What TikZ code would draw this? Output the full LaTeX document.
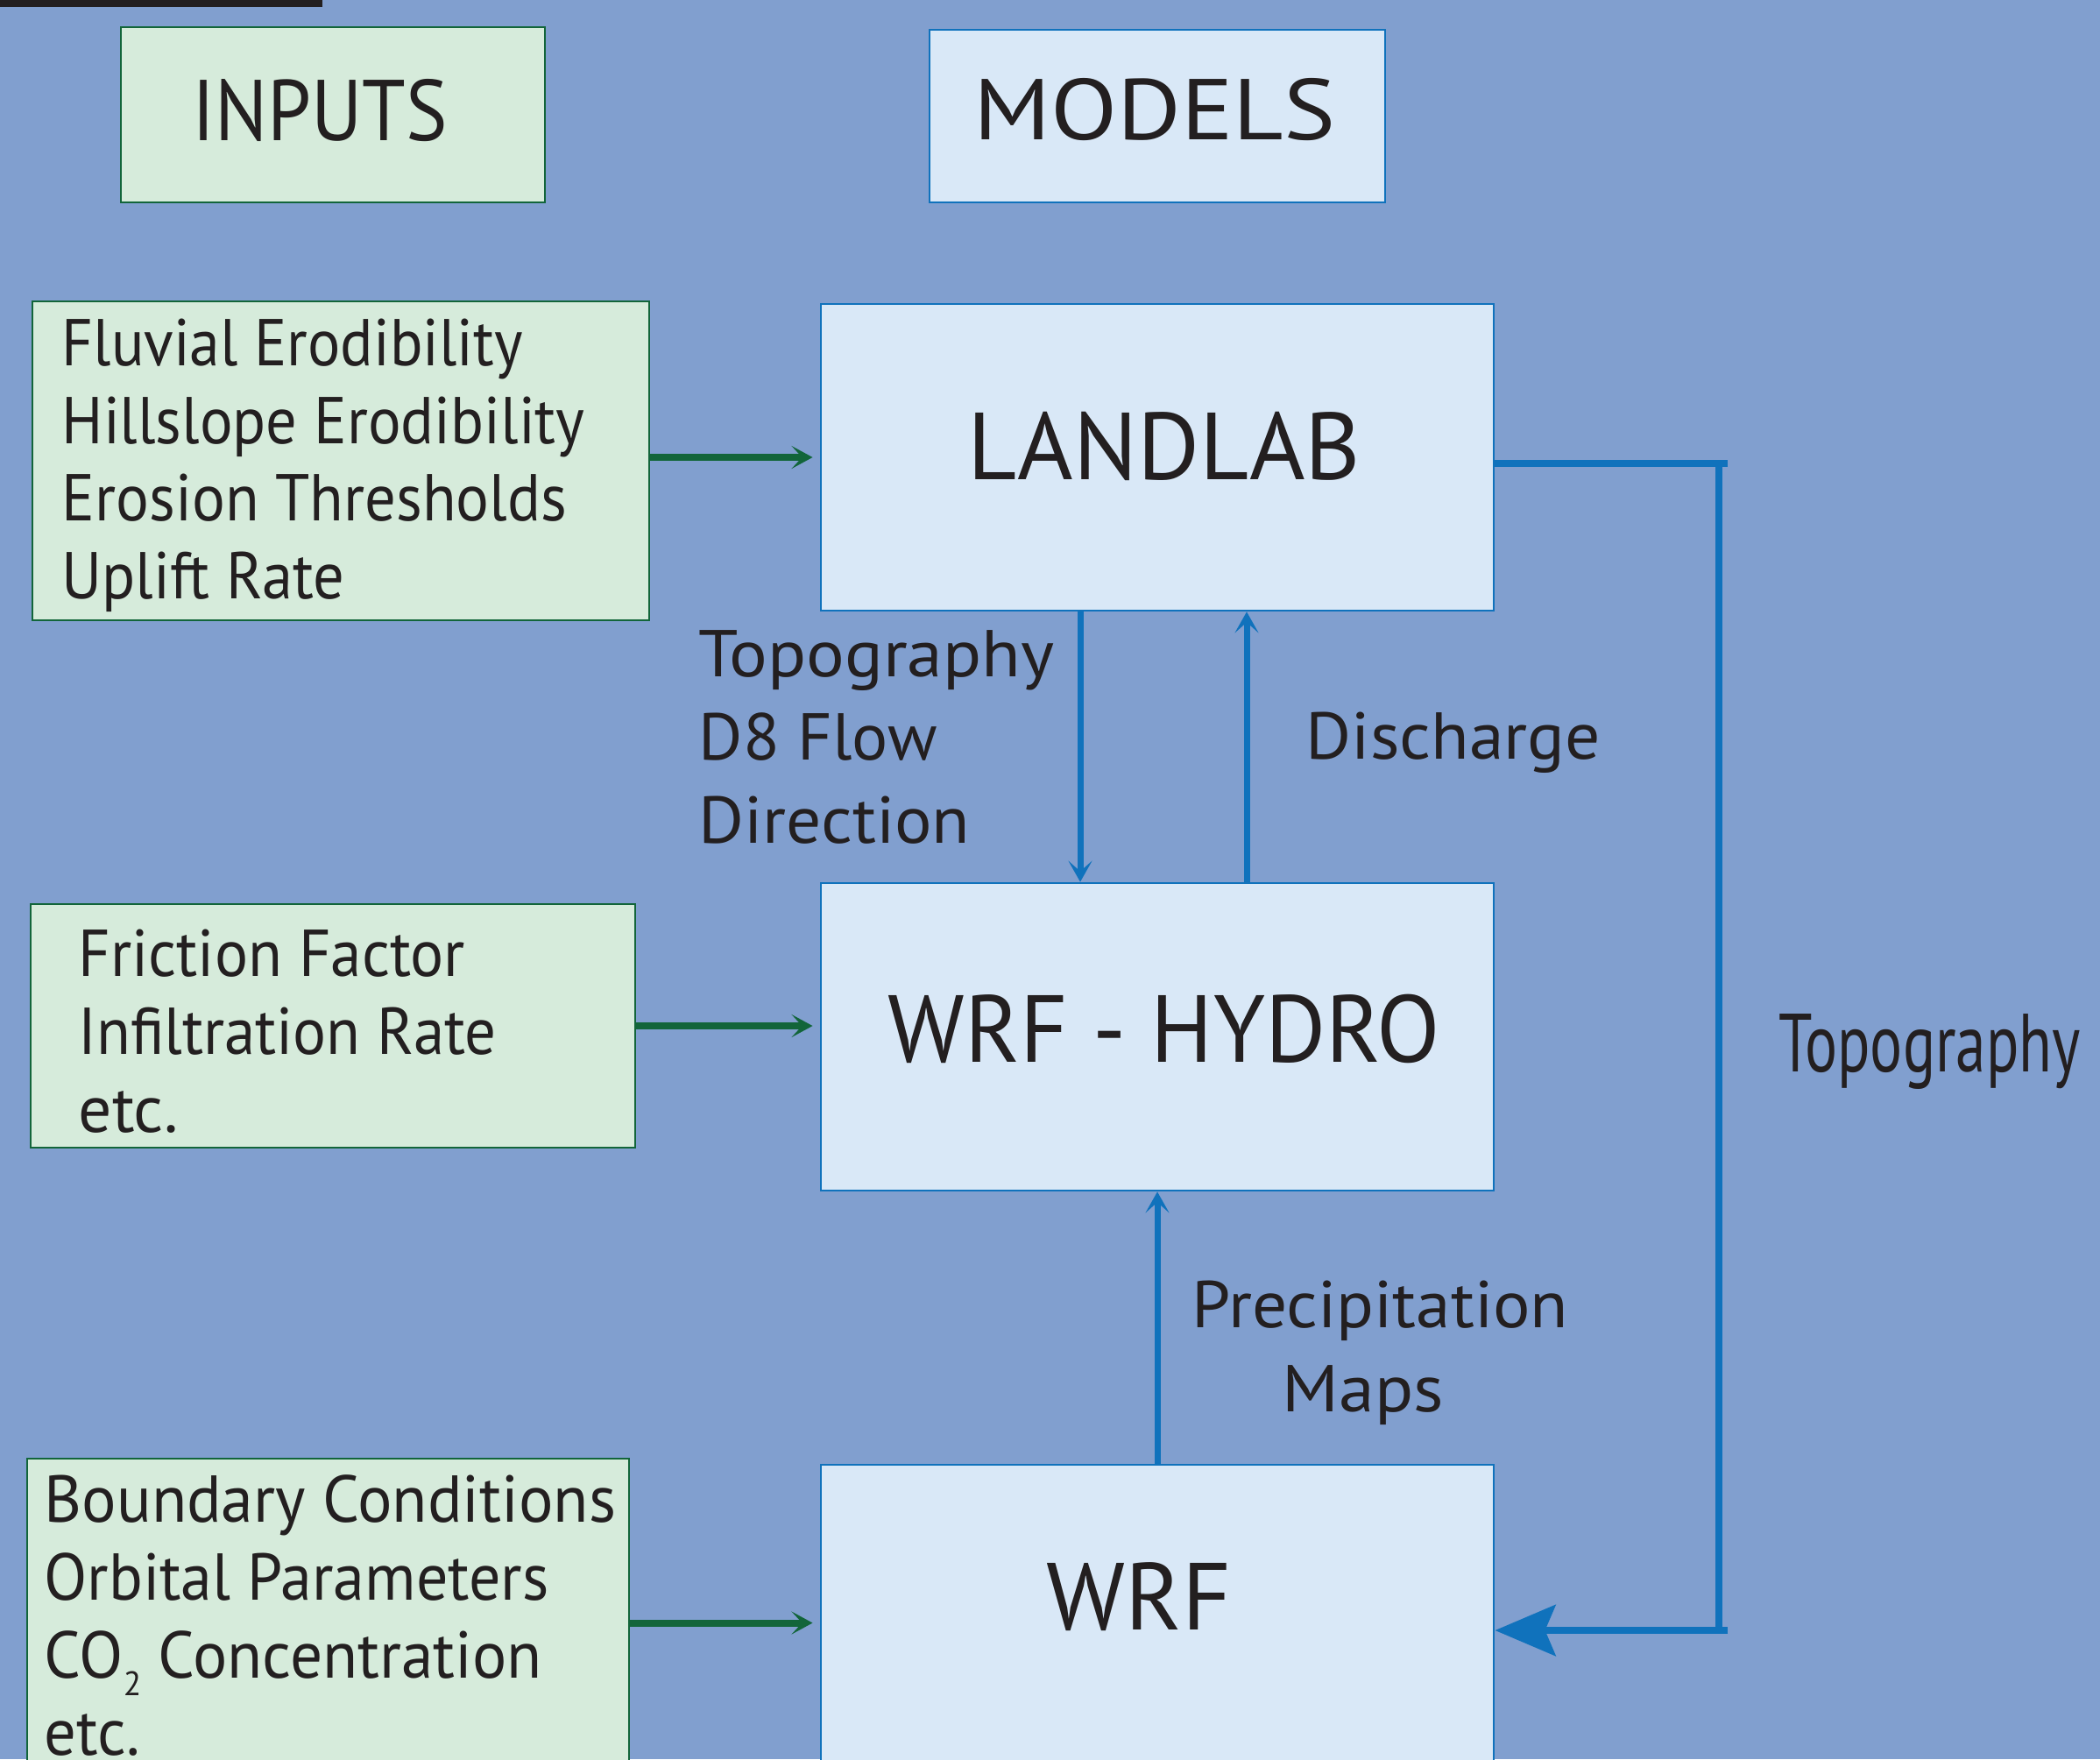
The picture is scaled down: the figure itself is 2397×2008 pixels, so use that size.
\documentclass[tikz,border=0pt]{standalone}
\usepackage{fontspec}
\usepackage{graphicx}
\setmainfont{PT Sans}
\usetikzlibrary{arrows.meta}
\definecolor{bgc}{HTML}{819FCF}
\definecolor{gfill}{HTML}{D6EBDB}
\definecolor{gline}{HTML}{12653A}
\definecolor{bfill}{HTML}{D9E8F7}
\definecolor{bline}{HTML}{1072BC}
\definecolor{ink}{HTML}{231F20}
\newcommand\fSmall{\fontsize{21.5pt}{25pt}\selectfont}
\newcommand\fHead{\fontsize{28pt}{32pt}\selectfont}
\newcommand\fModel{\fontsize{30.9pt}{35pt}\selectfont}
\newcommand\fSide{\fontsize{26.8pt}{30pt}\selectfont}
\newcommand\sx[2]{\scalebox{#1}[1]{#2}}
\begin{document}
\begin{tikzpicture}[x=0.01cm,y=-0.01cm,
  gbox/.style={draw=gline,fill=gfill,line width=0.025cm,rectangle,inner sep=0pt},
  bbox/.style={draw=bline,fill=bfill,line width=0.025cm,rectangle,inner sep=0pt},
  txt/.style={anchor=base west,inner sep=0pt,text=ink,font=\fSmall},
  ctxt/.style={anchor=base,inner sep=0pt,text=ink},
  garrow/.style={draw=gline,line width=0.08cm,-{Stealth[length=0.24cm,width=0.26cm,inset=0.12cm]},shorten >=0.08cm},
  barrow/.style={draw=bline,line width=0.07cm,-{Stealth[length=0.24cm,width=0.27cm,inset=0.12cm]}},
  loopline/.style={draw=bline,line width=0.08cm}]
\fill[bgc] (0,0) rectangle (2397,2008);
\useasboundingbox (0,0) rectangle (2397,2008);
\clip (0,0) rectangle (2397,2008);
\fill[ink] (0,0) rectangle (368,8);
% header boxes
\node[gbox,minimum width=4.84cm,minimum height=2.00cm] (inp) at (380,131) {};
\node[bbox,minimum width=5.20cm,minimum height=1.97cm] (mod) at (1321,132.5) {};
\node[ctxt,font=\fHead] (inpT) at (365,160) {\sx{0.908}{INPUTS}};
\node[ctxt,font=\fHead] (modT) at (1318,159) {\sx{1.13}{MODELS}};
% input boxes
\node[gbox,minimum width=7.04cm,minimum height=3.64cm] (b1) at (389,526) {};
\node[gbox,minimum width=6.90cm,minimum height=2.78cm] (b2) at (380,1171) {};
\node[gbox,minimum width=6.87cm,minimum height=3.75cm] (b3) at (374.5,1852.5) {};
% model boxes
\node[bbox,minimum width=7.68cm,minimum height=3.50cm] (LL) at (1321,522) {};
\node[bbox,minimum width=7.68cm,minimum height=3.51cm] (HY) at (1321,1183.5) {};
\node[bbox,minimum width=7.68cm,minimum height=3.68cm] (WRF) at (1321,1856) {};
\node[ctxt,font=\fModel] (LLT) at (1329,547) {LANDLAB};
\node[ctxt,font=\fModel] (HYT) at (1329,1212) {\sx{0.974}{WRF - HYDRO}};
\node[ctxt,font=\fModel] (WRFT) at (1300,1860) {WRF};
% input texts
\node[txt] (t11) at (70,417) {\sx{0.922}{Fluvial Erodibility}};
\node[txt] (t12) at (70,506) {\sx{0.931}{Hillslope Erodibility}};
\node[txt] (t13) at (70,594) {\sx{0.935}{Erosion Thresholds}};
\node[txt] (t14) at (70,683) {\sx{0.933}{Uplift Rate}};
\node[txt] (t21) at (89,1114) {\sx{0.941}{Friction Factor}};
\node[txt] (t22) at (89,1203) {\sx{0.939}{Infiltration Rate}};
\node[txt] (t23) at (89,1292) {etc.};
\node[txt] (t31) at (50,1737) {\sx{0.975}{Boundary Conditions}};
\node[txt] (t32) at (50,1826) {\sx{0.952}{Orbital Parameters}};
\node[txt] (t33) at (50,1915) {\sx{0.97}{CO\raisebox{-0.2cm}{\fontsize{11pt}{12pt}\selectfont 2} Concentration}};
\node[txt] (t34) at (50,2003) {\sx{0.96}{etc.}};
% connector labels
\node[txt] (l1) at (797,772) {\sx{1.08}{Topography}};
\node[txt] (l2) at (797,867) {\sx{1.017}{D8 Flow}};
\node[txt] (l3) at (797,962) {\sx{1.05}{Direction}};
\node[txt] (l4) at (1490,866) {\sx{1.053}{Discharge}};
\node[txt] (l5) at (1360,1515) {\sx{1.049}{Precipitation}};
\node[txt] (l6) at (1463,1611) {\sx{1.083}{Maps}};
\node[txt,font=\fSide] (l7) at (2030,1223) {\sx{0.735}{Topography}};
% green arrows
\draw[garrow] (b1.east |- LL.west) -- (LL.west);
\draw[garrow] (b2.east) -- (b2.east -| HY.west);
\draw[garrow] (b3.east) -- (b3.east -| WRF.west);
% blue arrows
\coordinate (dA) at (1233,0);
\coordinate (dB) at (1423,0);
\coordinate (dC) at (1321,0);
\draw[barrow] (dA |- LL.south) -- (dA |- HY.north);
\draw[barrow] (dB |- HY.north) -- (dB |- LL.south);
\draw[barrow] (dC |- WRF.north) -- (dC |- HY.south);
% topography loop
\coordinate (lp1) at (1972,529);
\coordinate (lp2) at (1962,529);
\coordinate (lp3) at (1962,1861);
\coordinate (lp4) at (1972,1861);
\draw[loopline] (LL.east |- lp1) -- (lp1);
\draw[loopline] (lp2) -- (lp3);
\draw[loopline,-{Stealth[length=0.69cm,width=0.58cm,inset=0.12cm]}] (lp4) -- (WRF.east |- lp4);
\end{tikzpicture}
\end{document}
